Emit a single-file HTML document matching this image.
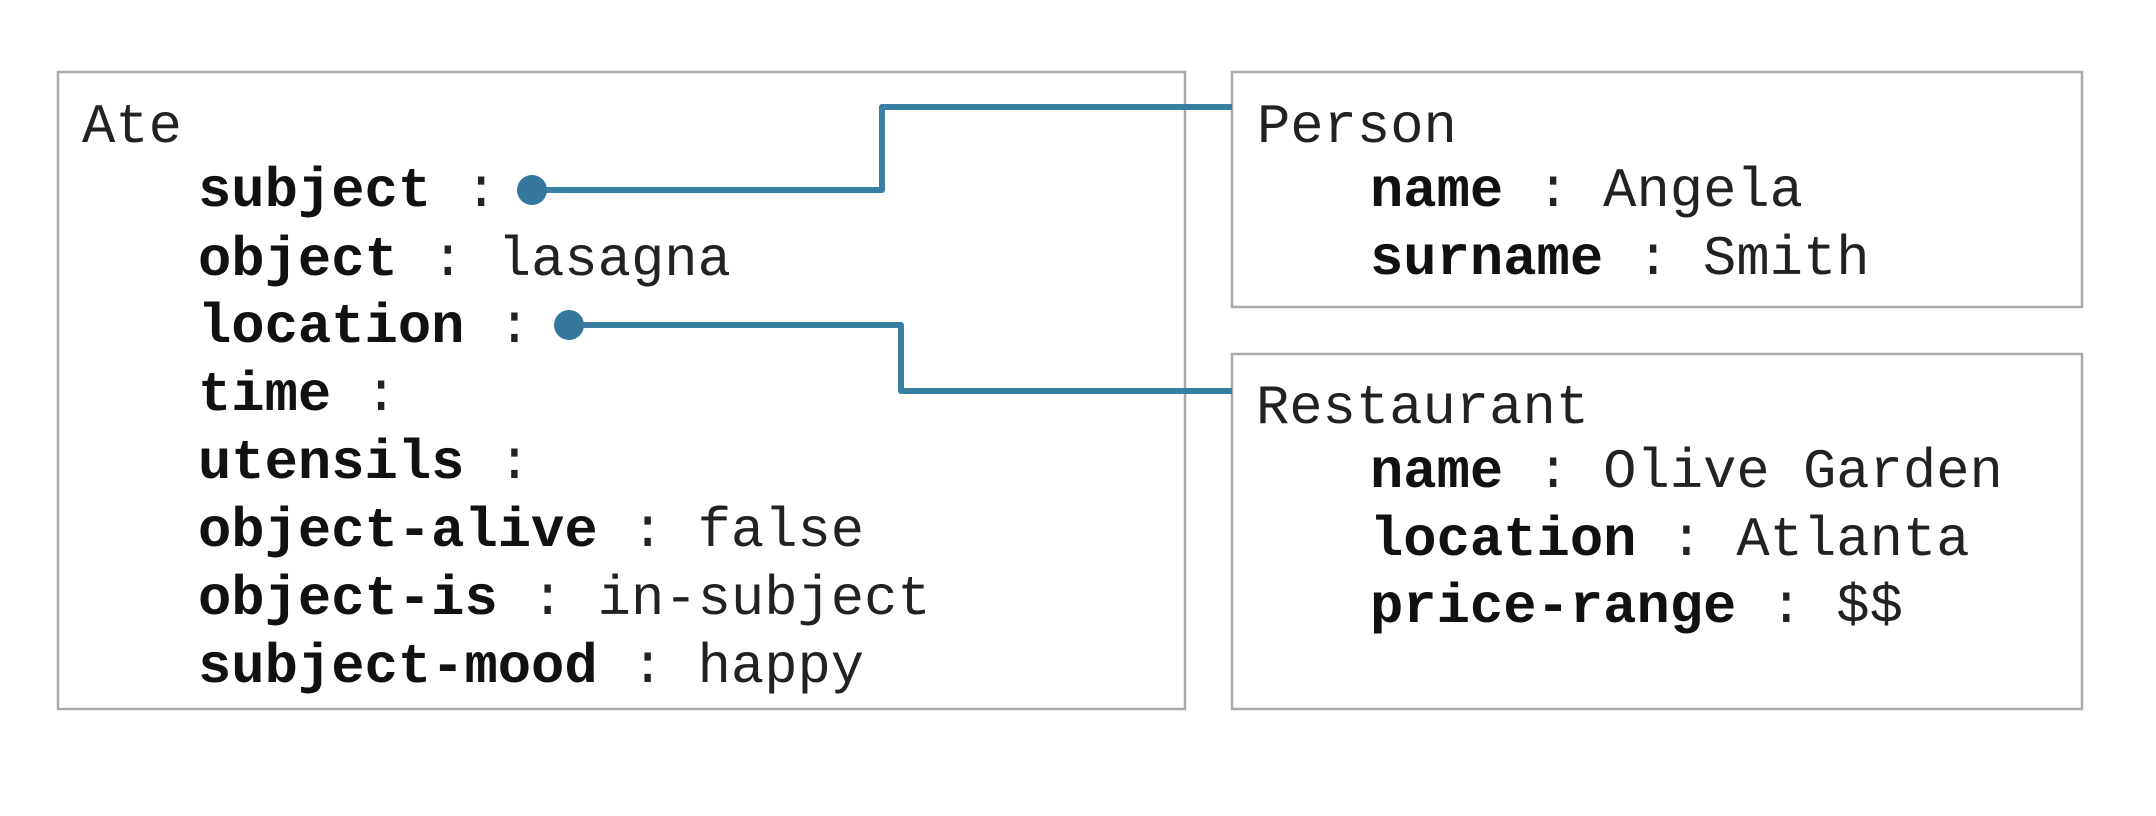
<!DOCTYPE html>
<html><head><meta charset="utf-8"><style>
html,body{margin:0;padding:0;background:#fff;}
svg{display:block;}
text{font-family:"Liberation Mono","Courier New",monospace;font-size:55.5px;fill:#222;white-space:pre;}
.b{font-weight:bold;fill:#111;}
</style></head><body>
<svg width="2156" height="816" viewBox="0 0 2156 816" xmlns="http://www.w3.org/2000/svg">
<rect x="58" y="72" width="1127" height="637" fill="none" stroke="#aaa" stroke-width="2.5"/>
<rect x="1232" y="72" width="850" height="235" fill="none" stroke="#aaa" stroke-width="2.5"/>
<rect x="1232" y="354" width="850" height="355" fill="none" stroke="#aaa" stroke-width="2.5"/>

<g fill="none" stroke="#3a7fa3" stroke-width="6" stroke-linejoin="round">
<polyline points="532,190 882,190 882,107 1232,107"/>
<polyline points="569,325 901,325 901,391 1232,391"/>
</g>
<circle cx="532" cy="190" r="15" fill="#36789d"/>
<circle cx="569" cy="325" r="15" fill="#36789d"/>

<text x="82" y="142">Ate</text>
<text x="198" y="206"><tspan class="b">subject</tspan> :</text>
<text x="198" y="275"><tspan class="b">object</tspan> : lasagna</text>
<text x="198" y="342"><tspan class="b">location</tspan> :</text>
<text x="198" y="410"><tspan class="b">time</tspan> :</text>
<text x="198" y="478"><tspan class="b">utensils</tspan> :</text>
<text x="198" y="546"><tspan class="b">object-alive</tspan> : false</text>
<text x="198" y="614"><tspan class="b">object-is</tspan> : in-subject</text>
<text x="198" y="682"><tspan class="b">subject-mood</tspan> : happy</text>

<text x="1257" y="142">Person</text>
<text x="1370" y="206"><tspan class="b">name</tspan> : Angela</text>
<text x="1370" y="274"><tspan class="b">surname</tspan> : Smith</text>

<text x="1256" y="423">Restaurant</text>
<text x="1370" y="487"><tspan class="b">name</tspan> : Olive Garden</text>
<text x="1370" y="555"><tspan class="b">location</tspan> : Atlanta</text>
<text x="1370" y="622"><tspan class="b">price-range</tspan> : $$</text>
</svg>
</body></html>
